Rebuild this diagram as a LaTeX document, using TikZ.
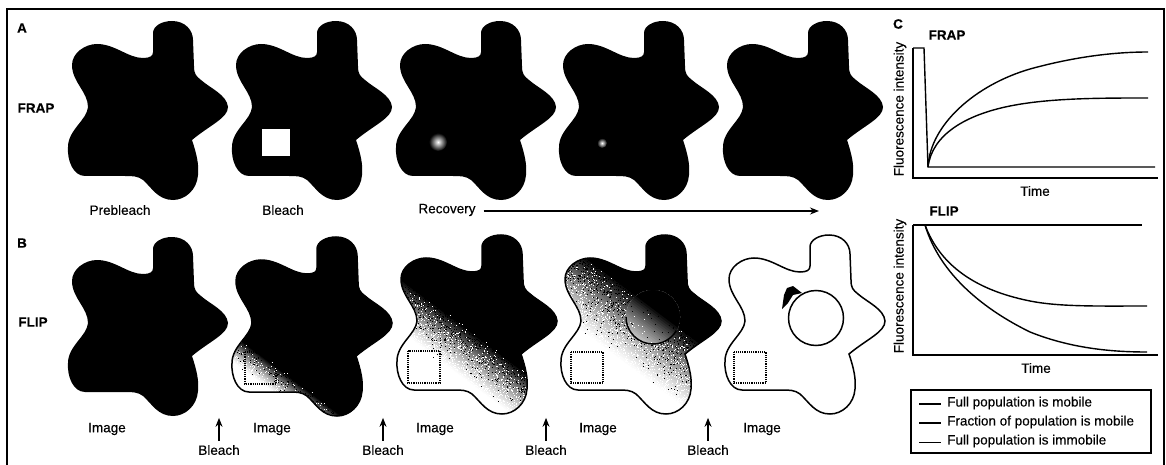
\documentclass[tikz,border=0pt]{standalone}
\usepackage{fontspec}
\usetikzlibrary{arrows.meta}
\setmainfont[FakeBold=.3]{Liberation Sans}
\newcommand{\cellpath}{(153,52) -- (153,33) .. controls (153,26) and (162,21) .. (172,21) .. controls (185,21) and (193,30) .. (193,40) -- (194,66) .. controls (194,74) and (196,76) .. (201,80) .. controls (210,88) and (227,95) .. (228,107) .. controls (228,118) and (210,125) .. (192,140) .. controls (197,155) and (199,165) .. (198,175) .. controls (197,190) and (185,200) .. (173,200) .. controls (158,200) and (152,188) .. (143,180) .. controls (138,176) and (132,176) .. (125,176) -- (85,176) .. controls (73,176) and (67,160) .. (68,147) .. controls (68,130) and (87,120) .. (88,107) .. controls (88,92) and (72,82) .. (72,65) .. controls (72,53) and (85,44) .. (97,44) .. controls (115,44) and (128,58) .. (143,58) .. controls (150,58) and (153,56) .. (153,52) -- cycle}
\newcommand{\fadeband}[3]{
\foreach \i in {0,...,24}{
\pgfmathsetmacro\tval{#1+(#2-#1)*\i/24}
\pgfmathsetmacro\gr{100*(\i/24)^1.3}
\fill[black!\gr] ({\tval*.6},{-\tval*.8}) -- ({\tval*.6+320},{-\tval*.8+240}) -- (560,-80) -- (240,-320) -- cycle;
}
\foreach \k in {1,...,#3}{
\pgfmathsetmacro\uu{rnd}
\pgfmathsetmacro\vv{rnd*300+20}
\pgfmathsetmacro\pick{rnd}
\pgfmathsetmacro\tval{#1-3+(#2-#1+6)*\uu}
\pgfmathsetmacro\lim{\uu^1.6}
\ifdim\pick pt<\lim pt\def\dotcol{black}\else\def\dotcol{white}\fi
\draw[\dotcol, line width=.8pt] ({\tval*.6+\vv*.8},{-\tval*.8+\vv*.6}) -- ++(.8,0);
}}
\tikzset{
lab/.style={font=\fontsize{13.5}{15}\selectfont, inner sep=0pt},
tag/.style={font=\fontsize{13.5}{15}\selectfont\bfseries, inner sep=0pt},
outline/.style={draw=black, line width=1.5pt},
ccd/.style={draw=black, densely dotted, line width=1.2pt},
curve/.style={line width=1.4pt},
plate/.style={line width=1.4pt},
tip/.style={-{Stealth[length=9pt,width=7pt]}, line width=1.2pt},
}
\begin{document}
\begin{tikzpicture}[x=1pt,y=-1pt]
\useasboundingbox (0,0) rectangle (1166,465);
\draw[line width=1.5pt] (7,465) -- (7,9) -- (1164,9) -- (1164,465);

\node[tag] (A) at (22,28){A};
\node[tag] (B) at (22,243){B};
\node[tag] (C) at (898,24){C};
\node[tag] (frap) at (36,108){FRAP};
\node[tag] (flip) at (33,322){FLIP};

% top row
\foreach \dx in {0,164,328,491,655}{
\fill[shift={(\dx,0)}] \cellpath;
}
\fill[white] (262,129) rectangle (290,156);
\shade[inner color=white, outer color=black] (438,142) circle (9);
\shade[inner color=white, outer color=black] (602,143) circle (5);

\node[lab] (pre) at (120,210){Prebleach};
\node[lab] (ble) at (283,210){Bleach};
\node[lab] (rec) at (447,210){Recovery};
\coordinate (recend) at (819,211);
\draw[tip] (rec.east) ++(8,1) -- (recend);

% bottom row
\fill[shift={(0,216)}] \cellpath;

\begin{scope}[shift={(164,216)}]
\begin{scope}
\clip \cellpath;
\fadeband{-76}{-54}{1200}
\end{scope}
\draw[outline] \cellpath;
\draw[ccd] (81,136) rectangle (112,168);
\end{scope}

\begin{scope}[shift={(329,214)}]
\begin{scope}
\clip \cellpath;
\fadeband{-52}{-10}{3500}
\end{scope}
\draw[outline] \cellpath;
\draw[ccd] (79,137) rectangle (111,169);
\end{scope}

\begin{scope}[shift={(493,214)}]
\begin{scope}
\clip \cellpath;
\fadeband{-42}{20}{4500}
\clip (160,103) circle (27);
\fadeband{-30}{20}{500}
\end{scope}
\draw[outline] \cellpath;
\draw[outline] (133,103) arc[start angle=180, end angle=30, radius=27];
\draw[ccd] (78,138) rectangle (110,169);
\end{scope}

\begin{scope}[shift={(657,214)}]
\draw[outline] \cellpath;
\draw[ccd] (77,138) rectangle (109,169);
\draw[outline] (159,104) circle (27.5);
\fill (125,95) -- (127,81) -- (130,74) -- (136,72) -- (145,79) -- (136,81) -- (131,89) -- cycle;
\end{scope}

\node[lab] (im1) at (107,429){Image};
\node[lab] (im2) at (272,429){Image};
\node[lab] (im3) at (435,429){Image};
\node[lab] (im4) at (598,429){Image};
\node[lab] (im5) at (762,429){Image};

\node[lab] (bl1) at (219,450){Bleach};
\node[lab] (bl2) at (383,450){Bleach};
\node[lab] (bl3) at (546,450){Bleach};
\node[lab] (bl4) at (708,450){Bleach};
\foreach \n in {1,2,3,4}{
\draw[tip] (bl\n.north) ++(0,-4) -- ++(0,-23);
}

% FRAP plot
\node[tag] (ftitle) at (947,35){FRAP};
\node[lab, rotate=90] (fy) at (900,109){Fluorescence intensity};
\node[lab] (ft) at (1035,191){Time};
\draw[plate] (913,48) -- (913,178) -- (1158,178);
\draw[curve] (913,48) -- (924,48) -- (928,167) -- (1155,167);
\draw[curve] (928,167) .. controls (930,125) and (975,85) .. (1030,69) .. controls (1070,58) and (1110,52) .. (1148,52);
\draw[curve] (928,167) .. controls (932,135) and (965,115) .. (1010,106) .. controls (1050,98) and (1100,98) .. (1148,98);

% FLIP plot
\node[tag] (ltitle) at (944,211){FLIP};
\node[lab, rotate=90] (ly) at (900,286){Fluorescence intensity};
\node[lab] (lt) at (1036,368){Time};
\draw[plate] (913,225) -- (913,355) -- (1158,355);
\draw[curve] (913,225) -- (1142,225);
\draw[curve] (925,225) .. controls (940,265) and (975,290) .. (1030,301) .. controls (1060,307) and (1100,306) .. (1147,306);
\draw[curve] (925,225) .. controls (940,275) and (985,310) .. (1030,332) .. controls (1070,348) and (1110,352) .. (1147,352);

% legend
\node[lab, anchor=west] (leg1) at (947,403){Full population is mobile};
\node[lab, anchor=west] (leg2) at (947,422){Fraction of population is mobile};
\node[lab, anchor=west] (leg3) at (947,441){Full population is immobile};
\draw[plate] (911,390) rectangle (1151,453);
\draw[line width=1.1pt] (919,404) -- (941,404);
\draw[line width=1.5pt] (919,423) -- (941,423);
\draw[line width=.7pt] (919,442) -- (941,442);
\end{tikzpicture}
\end{document}
